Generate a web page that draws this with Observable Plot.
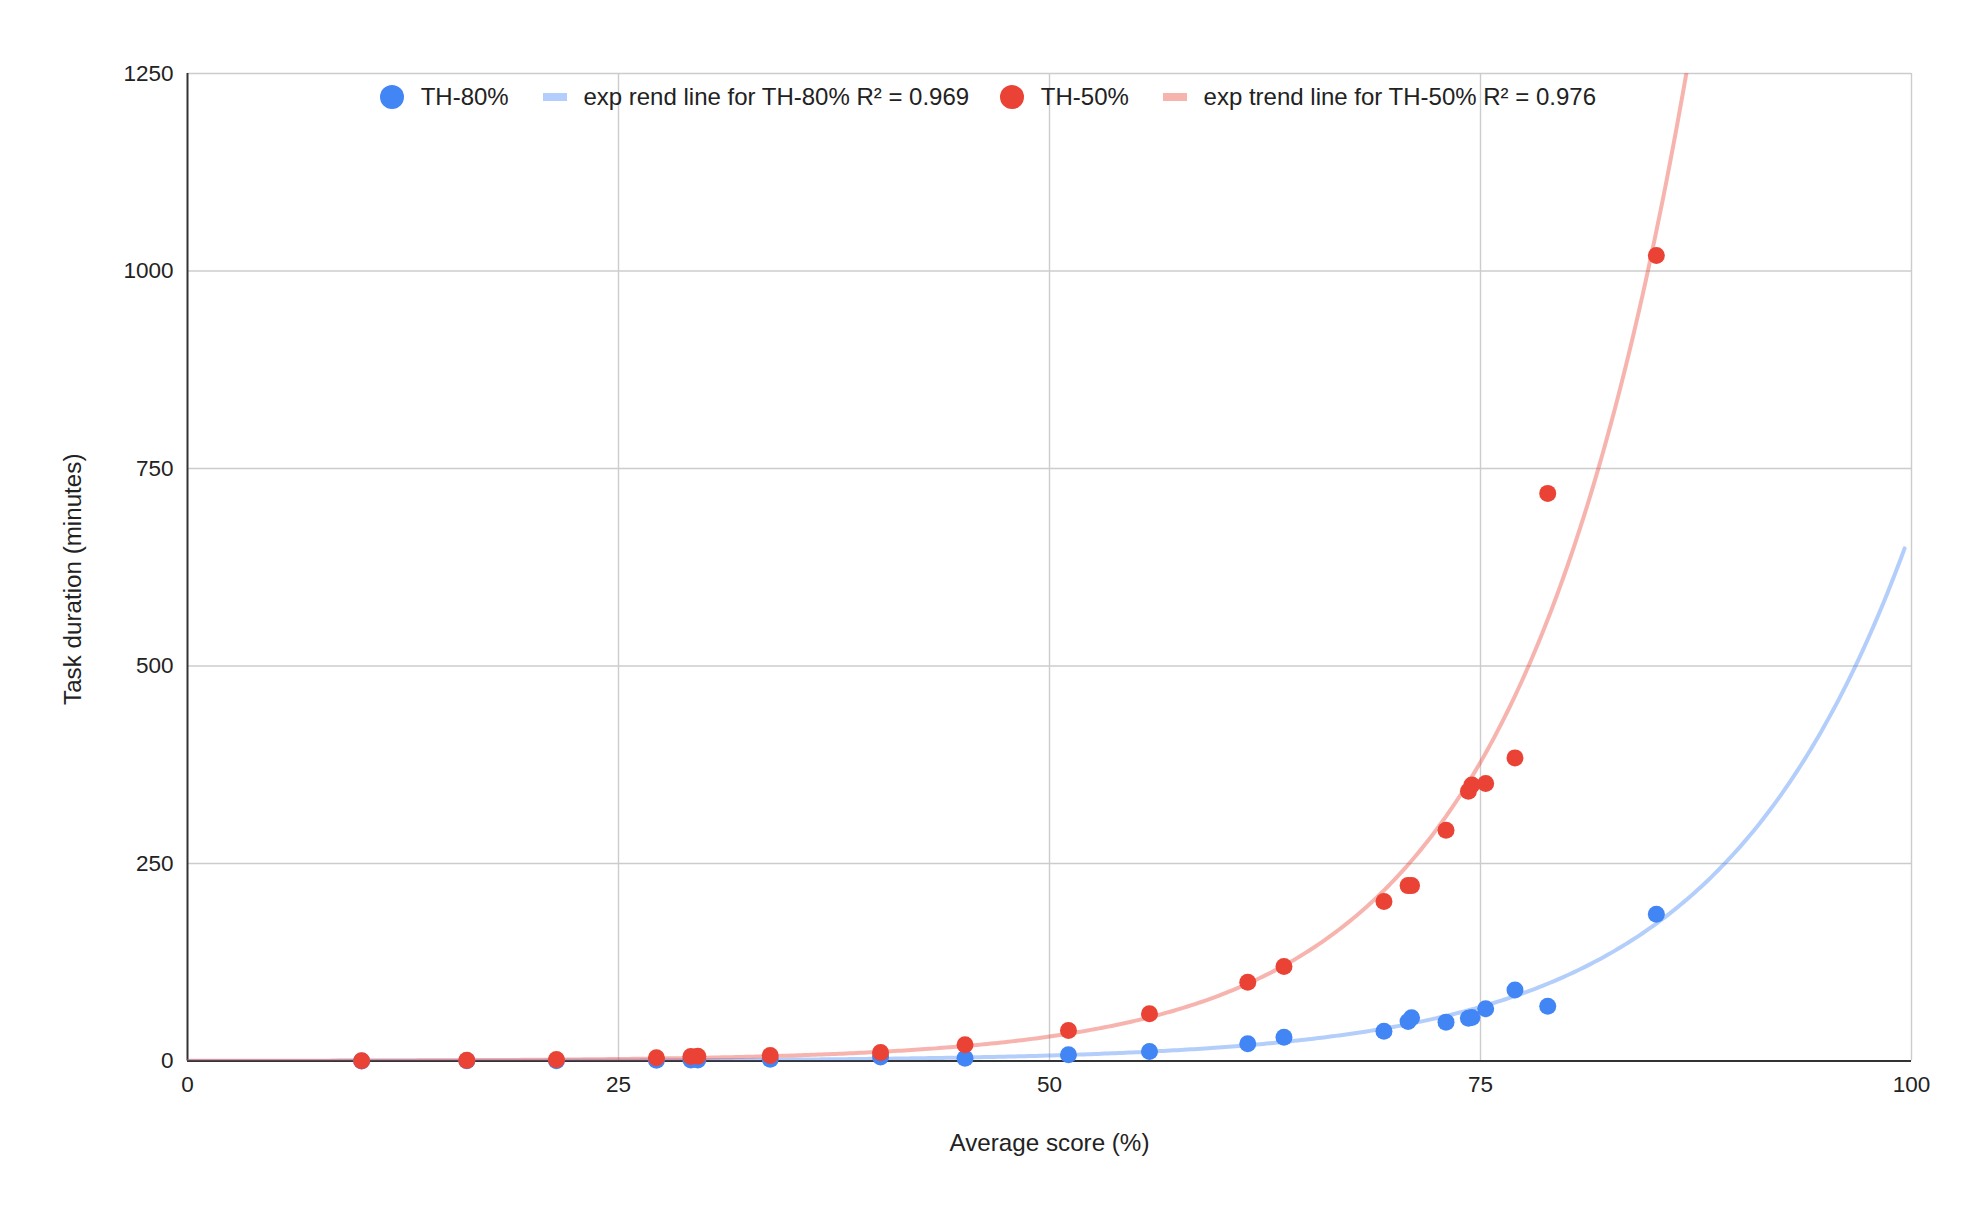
<!DOCTYPE html>
<html>
<head>
<meta charset="utf-8">
<script src="https://cdn.jsdelivr.net/npm/d3@7"></script>
<script src="https://cdn.jsdelivr.net/npm/@observablehq/plot@0.6"></script>
<style>
  html, body { margin: 0; padding: 0; background: #fff; }
  #wrap { position: relative; width: 1972px; height: 1218px; }
  #legend {
    position: absolute; left: 380px; top: 84px; height: 26px;
    display: flex; align-items: center;
    font-family: "Liberation Sans", Arial, sans-serif; font-size: 24px; color: #222;
    white-space: nowrap;
  }
  #legend .dot { width: 24px; height: 24px; border-radius: 50%; margin-right: 16.7px; }
  #legend .sw { width: 24px; height: 8px; margin-right: 16.7px; }
</style>
</head>
<body>
<div id="wrap">
  <div id="chart"></div>
  <div id="legend"></div>
</div>
<script>
// ---- data ----
const scores = [10.1, 16.2, 21.4, 27.2, 29.2, 29.6, 33.8, 40.2, 45.1, 51.1, 55.8, 61.5, 63.6,
                69.4, 70.8, 71.0, 73.0, 74.3, 74.5, 75.3, 77.0, 78.9, 85.2];
const th80 = [0.11, 0.24, 0.46, 0.97, 1.25, 1.31, 2.25, 5.1, 3.5, 7.8, 12.0, 21.7, 30.1,
              37.7, 50.1, 54.7, 49.2, 54, 55, 66, 89.8, 69.3, 185.8];
const th50 = [0.3, 0.8, 1.75, 4.2, 5.7, 6.1, 7, 10.7, 20.5, 38.6, 59.7, 99.7, 119.5,
              202, 222, 222, 292, 341.5, 349.5, 351.4, 383.7, 718.5, 1019.5];
const xTicks = [0, 25, 50, 75, 100];
const yTicks = [0, 250, 500, 750, 1000, 1250];
const seriesNames = ["TH-80%", "exp rend line for TH-80% R² = 0.969", "TH-50%", "exp trend line for TH-50% R² = 0.976"];
const blue = "#4285f4", red = "#ea4335";

// ---- exponential trend lines: least squares fit of ln(y) on x ----
function expFit(xs, ys) {
  const n = xs.length;
  const ly = ys.map(Math.log);
  const mx = d3.mean(xs), my = d3.mean(ly);
  let sxy = 0, sxx = 0;
  for (let i = 0; i < n; i++) { sxy += (xs[i] - mx) * (ly[i] - my); sxx += (xs[i] - mx) ** 2; }
  const b = sxy / sxx;
  const a = Math.exp(my - b * mx);
  return x => a * Math.exp(b * x);
}
const f80 = expFit(scores, th80);
const f50 = expFit(scores, th50);
const trendX = d3.range(0, 99.6, 0.2).concat([99.6]);
const trend80 = trendX.map(x => ({x, y: f80(x)}));
const trend50 = trendX.map(x => ({x, y: f50(x)}));

const pts80 = scores.map((x, i) => ({x, y: th80[i]}));
const pts50 = scores.map((x, i) => ({x, y: th50[i]}));

const font = "'Liberation Sans', Arial, sans-serif";
const chart = Plot.plot({
  width: 1972,
  height: 1218,
  marginLeft: 187,
  marginRight: 61,
  marginTop: 73,
  marginBottom: 157.5,
  style: `font-family: ${font}; font-size: 22.5px; color: #222; background: #fff; overflow: visible;`,
  x: {domain: [0, 100]},
  y: {domain: [0, 1250]},
  marks: [
    Plot.gridX({ticks: xTicks.slice(1), stroke: "#cccccc", strokeOpacity: 1, strokeWidth: 1.4}),
    Plot.gridY({ticks: yTicks.slice(1), stroke: "#cccccc", strokeOpacity: 1, strokeWidth: 1.4}),
    Plot.axisX({ticks: xTicks, tickFormat: d => String(d), tickSize: 0, tickPadding: 15, fontSize: 22.5, label: null}),
    Plot.axisY({ticks: yTicks, tickFormat: d => String(d), tickSize: 0, tickPadding: 14, fontSize: 22.5, label: null}),
    Plot.ruleX([0], {stroke: "#333", strokeWidth: 2}),
    Plot.ruleY([0], {stroke: "#333", strokeWidth: 2}),
    Plot.line(trend80, {x: "x", y: "y", stroke: blue, strokeOpacity: 0.4, strokeWidth: 4, clip: true}),
    Plot.line(trend50, {x: "x", y: "y", stroke: red, strokeOpacity: 0.4, strokeWidth: 4, clip: true}),
    Plot.dot(pts80, {x: "x", y: "y", r: 8.5, fill: blue, stroke: null}),
    Plot.dot(pts50, {x: "x", y: "y", r: 8.5, fill: red, stroke: null}),
    Plot.text(["Average score (%)"], {text: d => d, frameAnchor: "bottom", dy: 90, fontSize: 24.2, fill: "#222"}),
    Plot.text(["Task duration (minutes)"], {text: d => d, frameAnchor: "left", textAnchor: "middle", rotate: -90, dx: -114, dy: 12, fontSize: 24.2, fill: "#222"})
  ]
});
document.getElementById("chart").appendChild(chart);

// ---- legend ----
const legend = document.getElementById("legend");
const items = [
  {kind: "dot", color: blue, text: seriesNames[0], gap: 34},
  {kind: "sw", color: "#b3cefb", text: seriesNames[1], gap: 31},
  {kind: "dot", color: red, text: seriesNames[2], gap: 34},
  {kind: "sw", color: "#f7b4ae", text: seriesNames[3], gap: 0}
];
for (const it of items) {
  const m = document.createElement("span");
  m.className = it.kind;
  m.style.background = it.color;
  m.style.display = "inline-block";
  legend.appendChild(m);
  const t = document.createElement("span");
  t.textContent = it.text;
  t.style.marginRight = it.gap + "px";
  legend.appendChild(t);
}
</script>
</body>
</html>
